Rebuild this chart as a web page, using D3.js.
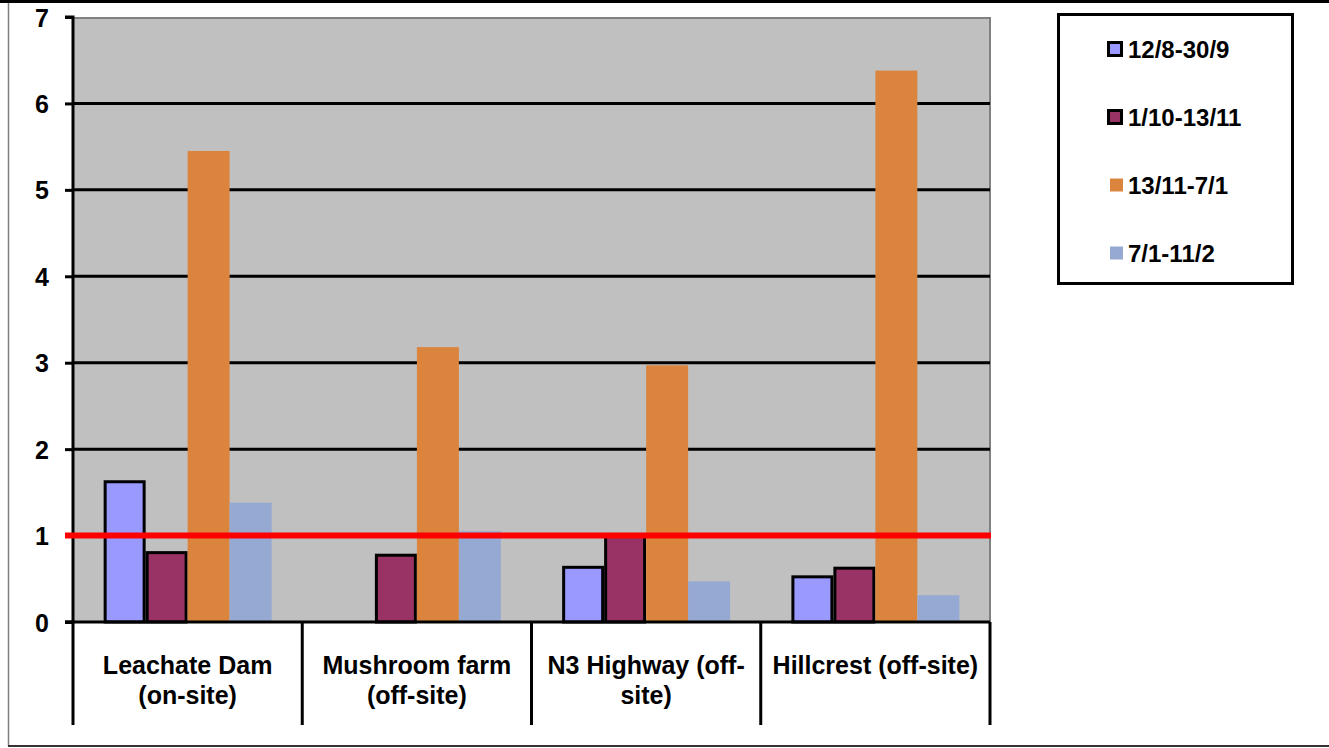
<!DOCTYPE html>
<html><head><meta charset="utf-8">
<script src="https://cdn.jsdelivr.net/npm/d3@7"></script>
<style>body{margin:0;background:#fff;}svg{display:block;font-family:"Liberation Sans",Arial,sans-serif;}</style>
</head><body>
<svg id="chart" width="1329" height="748"></svg>
<script>
const categories = [["Leachate Dam", "(on-site)"], ["Mushroom farm", "(off-site)"], ["N3 Highway (off-", "site)"], ["Hillcrest (off-site)"]];
const seriesNames = ["12/8-30/9", "1/10-13/11", "13/11-7/1", "7/1-11/2"];
const series1 = [1.64, null, 0.65, 0.54];
const series2 = [0.82, 0.79, 1.03, 0.64];
const series3 = [5.45, 3.18, 2.97, 6.38];
const series4 = [1.38, 1.05, 0.47, 0.31];
const yTicks = [0, 1, 2, 3, 4, 5, 6, 7];
const limitValue = 1;
const colors = ["#9999FF", "#993366", "#DB843D", "#95A9D2"];
const outlined = [true, true, false, false];

const allSeries = [series1, series2, series3, series4];
const svg = d3.select("#chart");
const L = 73, R = 990, T = 17, B = 622;

// outer frame
svg.append("line").attr("x1", 0).attr("x2", 1329).attr("y1", 1.5).attr("y2", 1.5).attr("stroke", "#000").attr("stroke-width", 3);
svg.append("line").attr("x1", 8.5).attr("x2", 8.5).attr("y1", 3).attr("y2", 746).attr("stroke", "#808080").attr("stroke-width", 1.5);
svg.append("line").attr("x1", 8).attr("x2", 1329).attr("y1", 746).attr("y2", 746).attr("stroke", "#333").attr("stroke-width", 2);

const y = d3.scaleLinear().domain([0, 7]).range([B, T]);
const x0 = d3.scaleBand().domain(d3.range(categories.length)).range([L, R]).paddingInner(0).paddingOuter(0);
const x1 = d3.scaleBand().domain(d3.range(seriesNames.length)).range([0, x0.bandwidth()]).paddingOuter(0.73).paddingInner(0);

// plot background
svg.append("rect").attr("x", L).attr("y", T).attr("width", R - L).attr("height", B - T).attr("fill", "#C0C0C0");
svg.append("line").attr("x1", L).attr("x2", R).attr("y1", T + 1).attr("y2", T + 1).attr("stroke", "#808080").attr("stroke-width", 2);
svg.append("line").attr("x1", R).attr("x2", R).attr("y1", T).attr("y2", B).attr("stroke", "#808080").attr("stroke-width", 2);

// gridlines
svg.append("g").selectAll("line").data(yTicks.filter(d => d > 0 && d < 7)).join("line")
  .attr("x1", L).attr("x2", R).attr("y1", d => y(d)).attr("y2", d => y(d))
  .attr("stroke", "#000").attr("stroke-width", 3);

// bars
const g = svg.append("g");
allSeries.forEach((s, si) => {
  g.append("g").selectAll("rect").data(s.map((v, ci) => ({v, ci}))).join("rect")
    .filter(d => d.v != null)
    .attr("x", d => x0(d.ci) + x1(si) + (outlined[si] ? 1.5 : 0))
    .attr("y", d => y(d.v) + (outlined[si] ? 1.5 : 0))
    .attr("width", x1.bandwidth() - (outlined[si] ? 3 : 0))
    .attr("height", d => y(0) - y(d.v) - (outlined[si] ? 1.5 : 0))
    .attr("fill", colors[si])
    .attr("stroke", outlined[si] ? "#000" : "none")
    .attr("stroke-width", 3);
});

// y axis
const yAxis = d3.axisLeft(y).tickValues(yTicks).tickSize(8).tickPadding(15).tickFormat(d3.format("d"));
const ya = svg.append("g").attr("transform", `translate(${L},0)`).call(yAxis);
ya.attr("font-family", null).attr("font-size", null);
ya.select(".domain").attr("stroke", "#000").attr("stroke-width", 3).attr("d", `M-8,${T}H0V${B}H-8`);
ya.selectAll(".tick line").attr("stroke", "#000").attr("stroke-width", 3);
ya.selectAll(".tick text").attr("x", -24).attr("font-size", 25).attr("font-weight", "bold").attr("fill", "#000")
  .attr("font-family", "Liberation Sans, Arial, sans-serif").attr("dy", "0.36em");

// x axis line and category separators
svg.append("line").attr("x1", L - 8).attr("x2", R).attr("y1", B).attr("y2", B).attr("stroke", "#000").attr("stroke-width", 3);
svg.append("g").selectAll("line").data(d3.range(categories.length + 1)).join("line")
  .attr("x1", i => i < categories.length ? x0(i) : R).attr("x2", i => i < categories.length ? x0(i) : R)
  .attr("y1", B).attr("y2", 725).attr("stroke", "#000").attr("stroke-width", 3);

// category labels
const labs = svg.append("g").selectAll("text").data(categories).join("text")
  .attr("x", (d, i) => x0(i) + x0.bandwidth() / 2).attr("y", 674)
  .attr("text-anchor", "middle").attr("font-size", 25).attr("font-weight", "bold").attr("fill", "#000");
labs.selectAll("tspan").data(d => d).join("tspan")
  .attr("x", function() { return this.parentNode.getAttribute("x"); })
  .attr("dy", (d, i) => i === 0 ? 0 : 30).text(d => d);

// limit line
svg.append("line").attr("x1", 65).attr("x2", R + 1).attr("y1", y(limitValue)).attr("y2", y(limitValue))
  .attr("stroke", "#FF0000").attr("stroke-width", 6);

// legend
svg.append("rect").attr("x", 1058.5).attr("y", 14.5).attr("width", 234).attr("height", 269)
  .attr("fill", "#fff").attr("stroke", "#000").attr("stroke-width", 3);
const leg = svg.append("g").selectAll("g").data(seriesNames).join("g")
  .attr("transform", (d, i) => `translate(0,${49.5 + i * 68})`);
leg.append("rect").attr("x", (d, i) => outlined[i] ? 1108.5 : 1110).attr("y", -7)
  .attr("width", 13).attr("height", 13)
  .attr("fill", (d, i) => colors[i]).attr("stroke", (d, i) => outlined[i] ? "#000" : "none").attr("stroke-width", 3);
leg.append("text").attr("x", 1128).attr("y", 0).attr("dy", "0.36em").attr("font-size", 24).attr("font-weight", "bold")
  .attr("fill", "#000").text(d => d);
</script>
</body></html>
